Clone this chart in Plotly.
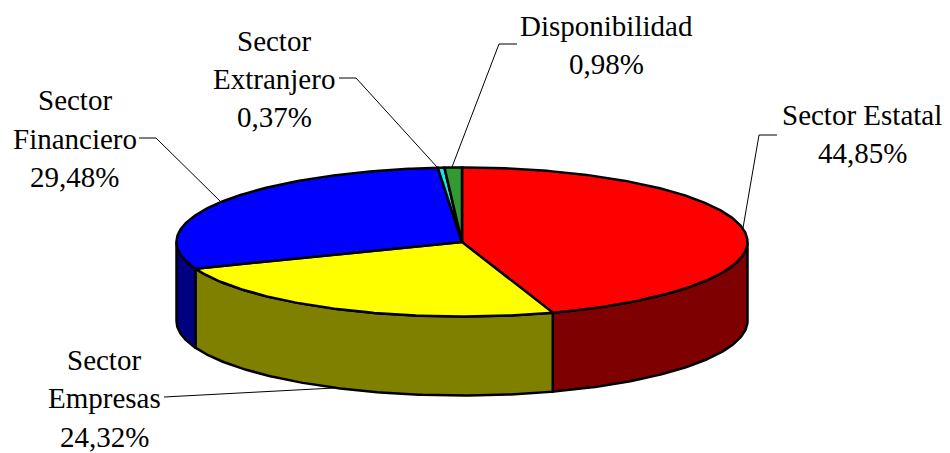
import numpy as np
import plotly.graph_objects as go

# Data
categories = ["Sector Estatal", "Sector Empresas", "Sector Financiero", "Sector Extranjero", "Disponibilidad"]
values = [44.85, 24.32, 29.48, 0.37, 0.98]
value_labels = ["44,85%", "24,32%", "29,48%", "0,37%", "0,98%"]
top_colors = ["#ff0000", "#ffff00", "#0000ff", "#19e6e6", "#339933"]
side_colors = ["#7f0000", "#808000", "#000080", "#0c7373", "#1a4d1a"]

# Pie geometry, in the page's pixel coordinates
CX, CY, RX, RY, DEPTH = 462, 242, 285.5, 74.5, 79
W, H = 950, 453


def arc(a0, a1, dy=0.0):
    n = max(2, int(abs(a1 - a0) * 1.5) + 2)
    t = np.radians(np.linspace(a0, a1, n))
    return CX + RX * np.sin(t), CY + dy - RY * np.cos(t)


edges = np.concatenate([[0], np.cumsum(values)]) * 360 / sum(values)
fig = go.Figure()

# Rim first: only the part of each slice on the front half of the pie shows
for i, c in enumerate(categories):
    a0, a1 = max(edges[i], 90), min(edges[i + 1], 270)
    if a1 <= a0:
        continue
    xt, yt = arc(a0, a1)
    xb, yb = arc(a1, a0, DEPTH)
    fig.add_trace(go.Scatter(
        x=np.r_[xt, xb, xt[0]], y=np.r_[yt, yb, yt[0]], mode="lines", fill="toself",
        fillcolor=side_colors[i], line=dict(color="#000000", width=2.5),
        hoverinfo="skip", showlegend=False, name=c + " (rim)"))

# Top faces
for i, c in enumerate(categories):
    xt, yt = arc(edges[i], edges[i + 1])
    fig.add_trace(go.Scatter(
        x=np.r_[CX, xt, CX], y=np.r_[CY, yt, CY], mode="lines", fill="toself",
        fillcolor=top_colors[i], line=dict(color="#000000", width=2.5),
        hoverinfo="skip", showlegend=False, name=c))

# Leader lines
leaders = [
    [(777, 135), (759, 135), (743, 228)],
    [(164, 397), (334, 388)],
    [(139, 138), (156, 138), (220, 201)],
    [(339, 78), (356, 78), (437, 167)],
    [(517, 44), (499, 44), (452, 167)],
]
for pts in leaders:
    fig.add_trace(go.Scatter(
        x=[p[0] for p in pts], y=[p[1] for p in pts], mode="lines",
        line=dict(color="#000000", width=1), hoverinfo="skip", showlegend=False))

# Labels: one annotation per line to keep the reference's line spacing
label_lines = [
    (862, [115, 153], ["Sector Estatal", value_labels[0]]),
    (104, [360, 398, 437], ["Sector", "Empresas", value_labels[1]]),
    (74.5, [100, 139, 177], ["Sector", "Financiero", value_labels[2]]),
    (274, [41, 79, 117], ["Sector", "Extranjero", value_labels[3]]),
    (606, [26, 64], ["Disponibilidad", value_labels[4]]),
]
annotations = []
for x, ys, texts in label_lines:
    for y, t in zip(ys, texts):
        annotations.append(dict(x=x, y=y, text=t, showarrow=False, xanchor="center", yanchor="middle",
                                font=dict(family="Liberation Serif", size=29, color="#000000")))

fig.update_layout(
    width=W, height=H, margin=dict(l=0, r=0, t=0, b=0),
    paper_bgcolor="#ffffff", plot_bgcolor="#ffffff", annotations=annotations,
    xaxis=dict(range=[0, W], visible=False, fixedrange=True),
    yaxis=dict(range=[H, 0], visible=False, fixedrange=True),
)
fig.write_html(
    "out.html", config={"displayModeBar": False},
    post_script="document.body.style.margin='0';document.documentElement.style.overflow='hidden';",
)
